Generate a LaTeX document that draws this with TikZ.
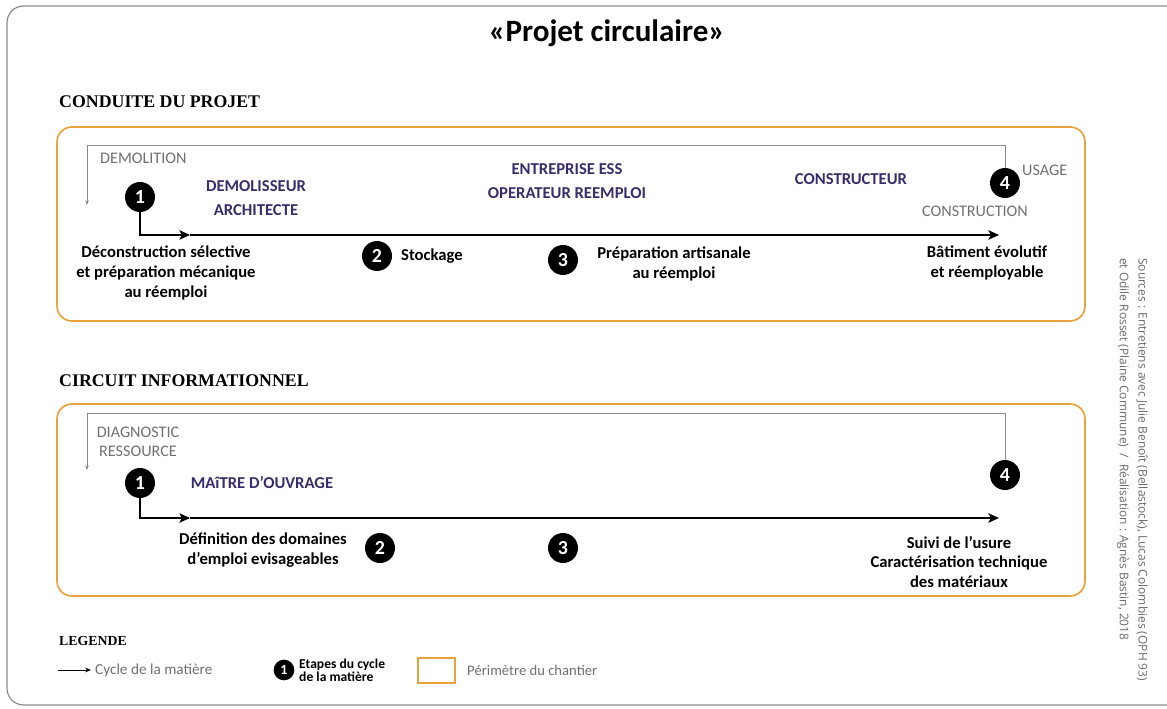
\documentclass[tikz,border=0pt]{standalone}
\usepackage{fontspec}
\setmainfont{Carlito}
\newfontfamily\titrefont{Liberation Serif}
\newfontfamily\sourcefont{Open Sans}
\usetikzlibrary{arrows.meta}
\definecolor{chantierorange}{HTML}{E8A23C}
\definecolor{acteurviolet}{HTML}{3B2D6B}
\definecolor{grisphase}{HTML}{707070}
\definecolor{grisligne}{HTML}{8A8A8A}
\definecolor{grissource}{HTML}{6A6A6A}
\begin{document}
\begin{tikzpicture}[x=0.03cm, y=-0.03cm,
    etape/.style = {circle, fill=black, text=white, font=\bfseries\fontsize{17}{17}\selectfont, inner sep=0pt, minimum size=0.9cm},
    acteur/.style = {text=acteurviolet, font=\bfseries\fontsize{14.2}{21}\selectfont, align=center, inner sep=0pt},
    phase/.style = {text=grisphase, font=\fontsize{13.8}{16}\selectfont, align=center, inner sep=0pt},
    texte/.style = {font=\bfseries\fontsize{14.2}{17}\selectfont, align=center, inner sep=0pt},
    titre/.style = {font=\titrefont\bfseries\fontsize{15.2}{16}\selectfont, anchor=west, inner sep=0pt},
    chantier/.style = {draw=chantierorange, line width=1.4pt, rounded corners=0.45cm},
    cycle/.style = {-{Stealth[length=9pt, width=8pt, inset=2pt]}, line width=1.6pt},
    retour/.style = {-{Stealth[length=4pt, width=3pt]}, draw=grisligne, line width=0.8pt}]
\useasboundingbox (0,0) rectangle (1167,709);
\draw[grisligne, line width=1pt, rounded corners=0.5cm] (7,6) rectangle (1200,705);

\node[font=\bfseries\fontsize{26.5}{26}\selectfont] (titre) at (607,33) {«Projet circulaire»};

% conduite du projet
\node[titre] (conduite) at (59,102) {CONDUITE DU PROJET};
\draw[chantier] (57,127) rectangle (1085,321);

\node[etape] (p1) at (140,197) {1};
\node[etape] (p2) at (377,256) {2};
\node[etape] (p3) at (563,260) {3};
\node[etape] (p4) at (1005,183) {4};
\coordinate (p0) at (190,235);
\coordinate (pfin) at (999,235);
\coordinate (phaut) at (87,145);
\coordinate (pretour) at (87,205);

\draw[cycle] (p1) |- (p0);
\draw[cycle] (p0) -- (pfin);
\draw[retour] (p4) |- (phaut) -- (pretour);

\node[phase, anchor=west] (demolition) at (100,158) {DEMOLITION};
\node[phase, anchor=west] (usage) at (1022,170) {USAGE};
\node[phase] (construction) at (975,211) {CONSTRUCTION};
\node[acteur] (demolisseur) at (256,198) {DEMOLISSEUR\\ARCHITECTE};
\node[acteur] (entreprise) at (567,181) {ENTREPRISE ESS\\OPERATEUR REEMPLOI};
\node[acteur] (constructeur) at (851,179) {CONSTRUCTEUR};

\node[texte] (deconstruction) at (166,273) {Déconstruction sélective\\et préparation mécanique\\au réemploi};
\node[texte, anchor=west] (stockage) at (401,256) {Stockage};
\node[texte] (preparation) at (674,264) {Préparation artisanale\\au réemploi};
\node[texte] (batiment) at (987,263) {Bâtiment évolutif\\et réemployable};

% circuit informationnel
\node[titre] (circuit) at (59,381) {CIRCUIT INFORMATIONNEL};
\draw[chantier] (57,404) rectangle (1085,596);

\node[etape] (i1) at (140,483) {1};
\node[etape] (i2) at (380,548) {2};
\node[etape] (i3) at (563,548) {3};
\node[etape] (i4) at (1005,475) {4};
\coordinate (i0) at (190,518);
\coordinate (ifin) at (999,518);
\coordinate (ihaut) at (87,413);
\coordinate (iretour) at (87,470);

\draw[cycle] (i1) |- (i0);
\draw[cycle] (i0) -- (ifin);
\draw[retour] (i4) |- (ihaut) -- (iretour);

\node[phase] (diagnostic) at (138,442) {DIAGNOSTIC\\RESSOURCE};
\node[acteur] (maitre) at (262,483) {MAîTRE D’OUVRAGE};
\node[texte] (definition) at (263,550) {Définition des domaines\\d’emploi evisageables};
\node[texte] (suivi) at (959,562) {Suivi de l’usure\\Caractérisation technique\\des matériaux};

% legende
\node[titre, font=\titrefont\bfseries\fontsize{11.8}{13}\selectfont] (legende) at (59,641) {LEGENDE};
\coordinate (l0) at (58,670);
\coordinate (l1) at (91,670);
\draw[-{Stealth[length=5pt, width=4pt]}, line width=0.8pt] (l0) -- (l1);
\node[anchor=west, font=\fontsize{13}{14}\selectfont, text=grisphase, inner sep=0pt] (matiere) at (95,670) {Cycle de la matière};
\node[etape, minimum size=0.62cm, font=\bfseries\fontsize{12}{12}\selectfont] (l2) at (284,670) {1};
\node[anchor=west, align=left, font=\bfseries\fontsize{11.6}{11}\selectfont, inner sep=0pt] (etapes) at (299,670) {Etapes du cycle\\de la matière};
\draw[chantierorange, line width=1.2pt] (418,658) rectangle (455,683);
\node[anchor=west, font=\fontsize{12.5}{14}\selectfont, text=grisphase, inner sep=0pt] (perimetre) at (467,670) {Périmètre du chantier};

\node[rotate=-90, anchor=north west, align=left, text=grissource, font=\sourcefont\fontsize{10.2}{16}\selectfont, inner sep=0pt] (sources) at (1148,258) {Sources : Entretiens avec Julie Benoît (Bellastock), Lucas Colombies (OPH 93)\\et Odile Rosset (Plaine Commune)~~/~~Réalisation : Agnès Bastin, 2018};
\end{tikzpicture}
\end{document}
